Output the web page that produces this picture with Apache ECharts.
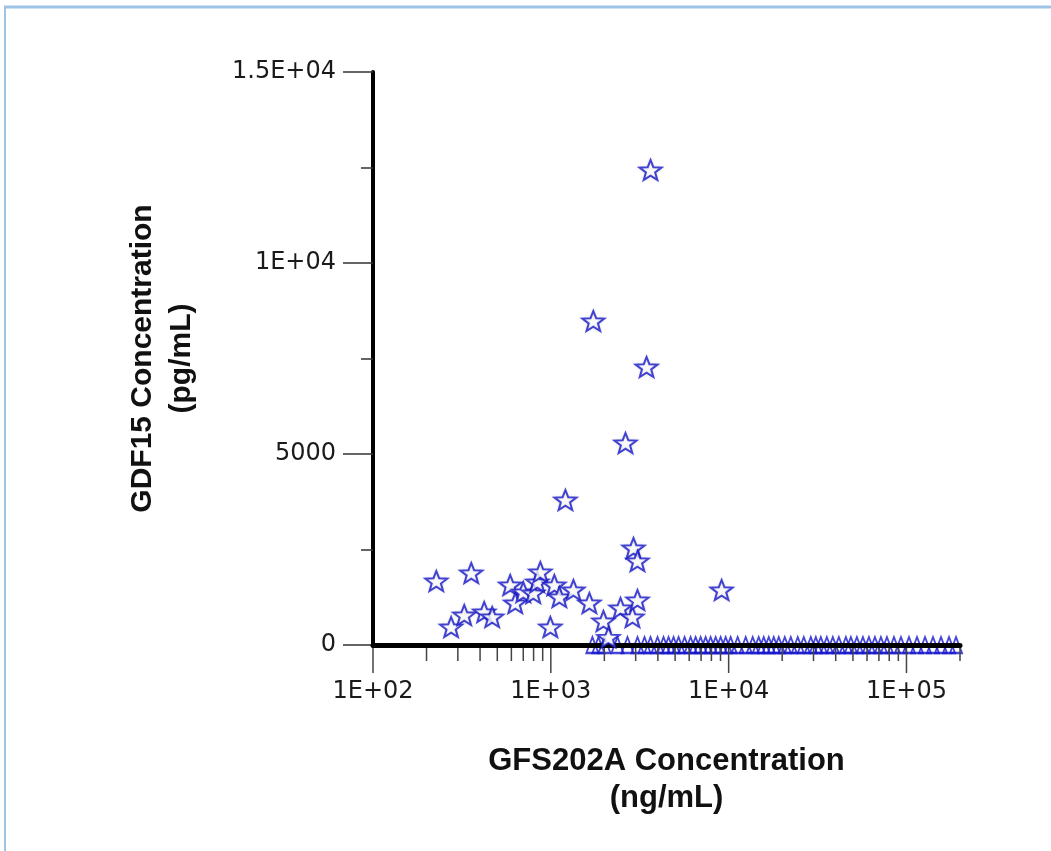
<!DOCTYPE html>
<html>
<head>
<meta charset="utf-8">
<script src="https://cdn.jsdelivr.net/npm/echarts@6/dist/echarts.min.js"></script>
<style>
  html, body { margin: 0; padding: 0; background: #fff; }
  #chart { width: 1051px; height: 851px; }
</style>
</head>
<body>
<div id="chart"></div>
<script>
// ---- Data ----
const xTickValues = [100, 1000, 10000, 100000];
const xTickLabels = ['1E+02', '1E+03', '1E+04', '1E+05'];
const xMinorTickValues = [200, 300, 400, 500, 600, 700, 800, 900,
  2000, 3000, 4000, 5000, 6000, 7000, 8000, 9000,
  20000, 30000, 40000, 50000, 60000, 70000, 80000, 90000, 200000];
const yTickValues = [0, 5000, 10000, 15000];
const yTickLabels = ['0', '5000', '1E+04', '1.5E+04'];

// Stars: GFS202A (ng/mL) vs GDF15 (pg/mL)
const starX = [227, 275, 326, 357, 422, 468, 591, 631, 700, 797, 839, 873, 994, 1047, 1117,
  1340, 1648, 1977, 2109, 2466, 2879, 3071, 2917, 3071, 9130, 1208, 1734, 2630, 3455, 3637];
const starY = [1675, 471, 785, 1885, 864, 733, 1571, 1100, 1388, 1361, 1649, 1911, 471, 1571, 1257,
  1440, 1100, 628, 200, 969, 733, 1178, 2540, 2199, 1440, 3796, 8482, 5288, 7278, 12436];

// Triangles: samples with GDF15 = 0
const triX = [1713, 1852, 2002, 2370, 2698, 3072, 3363, 3636, 3981, 4303, 4592, 4899, 5229, 5652,
  6108, 6518, 6955, 7421, 7917, 8450, 9014, 9619, 10263, 11237, 12470, 13654, 14757, 15746, 16807,
  17930, 19131, 20682, 22355, 24470, 26457, 28973, 30912, 32983, 35654, 38533, 41660, 45618, 48677,
  52612, 56875, 61474, 66447, 71837, 77640, 85050, 93110, 103300, 114600, 127100, 141000, 156400,
  173500, 190000];
const triY = triX.map(() => 0);

// ---- Chart ----
const starPath = 'path://M50 0 L62.34 33.01 L97.55 34.55 L69.97 56.49 L79.39 90.45 L50 71 L20.61 90.45 L30.03 56.49 L2.45 34.55 L37.66 33.01 Z';
const blue = '#1616cc';

function labelFor(values, labels, v) {
  for (let i = 0; i < values.length; i++) {
    if (Math.abs(v - values[i]) <= Math.abs(values[i]) * 1e-6 + 1e-9) return labels[i];
  }
  return '';
}

const tickData = xTickValues.map(v => [v, 1]).concat(xMinorTickValues.map(v => [v, 0]));

const chart = echarts.init(document.getElementById('chart'), null, { renderer: 'canvas' });
chart.setOption({
  animation: false,
  backgroundColor: '#ffffff',
  grid: { left: 373, right: 91, top: 72, bottom: 206, containLabel: false },
  xAxis: {
    type: 'log',
    logBase: 10,
    min: 100,
    max: 200000,
    z: 2,
    splitLine: { show: false },
    axisLine: { show: true, onZero: false, lineStyle: { color: '#000', width: 5 } },
    axisTick: { show: false },
    axisLabel: {
      margin: 35,
      fontFamily: 'DejaVu Sans',
      fontSize: 24,
      color: '#1a1a1a',
      formatter: v => labelFor(xTickValues, xTickLabels, v)
    },
    name: 'GFS202A Concentration\n(ng/mL)',
    nameLocation: 'middle',
    nameGap: 98,
    nameTextStyle: {
      fontFamily: 'Liberation Sans',
      fontWeight: 'bold',
      fontSize: 31,
      lineHeight: 37,
      color: '#111'
    }
  },
  yAxis: {
    type: 'value',
    min: 0,
    max: 15000,
    interval: 5000,
    splitLine: { show: false },
    axisLine: { show: true, onZero: false, lineStyle: { color: '#000', width: 4 } },
    axisTick: { show: true, length: 30, lineStyle: { color: '#333', width: 1.5 } },
    minorTick: { show: true, splitNumber: 2, length: 12, lineStyle: { color: '#333', width: 1.5 } },
    axisLabel: {
      margin: 37,
      fontFamily: 'DejaVu Sans',
      fontSize: 24,
      color: '#1a1a1a',
      formatter: v => labelFor(yTickValues, yTickLabels, v)
    },
    name: 'GDF15 Concentration\n(pg/mL)',
    nameLocation: 'middle',
    nameGap: 172,
    nameTextStyle: {
      fontFamily: 'Liberation Sans',
      fontWeight: 'bold',
      fontSize: 30,
      lineHeight: 39,
      color: '#111'
    }
  },
  graphic: [
    { type: 'line', shape: { x1: 4, y1: 7, x2: 1051, y2: 7 }, style: { stroke: '#9dc3e6', lineWidth: 3 }, silent: true },
    { type: 'line', shape: { x1: 5, y1: 7, x2: 5, y2: 851 }, style: { stroke: '#9dc3e6', lineWidth: 2 }, silent: true }
  ],
  series: [
    {
      type: 'custom',
      name: 'xticks',
      z: 2,
      silent: true,
      clip: false,
      data: tickData,
      encode: { x: 0 },
      renderItem: function (params, api) {
        const p = api.coord([api.value(0), 0]);
        const len = api.value(1) ? 28 : 16;
        return {
          type: 'line',
          shape: { x1: p[0], y1: p[1] + 2, x2: p[0], y2: p[1] + len },
          style: { stroke: '#444', lineWidth: 1.5 }
        };
      }
    },
    {
      type: 'scatter',
      name: 'GDF15 = 0',
      z: 1,
      symbol: 'triangle',
      symbolSize: [12, 16],
      itemStyle: { color: 'rgba(255,255,255,0)', borderColor: blue, borderWidth: 2 },
      data: triX.map((x, i) => [x, triY[i]])
    },
    {
      type: 'scatter',
      name: 'GDF15',
      z: 3,
      symbol: starPath,
      symbolKeepAspect: true,
      symbolSize: [22, 21],
      itemStyle: { color: '#ffffff', borderColor: blue, borderWidth: 2, shadowBlur: 3, shadowColor: 'rgba(0,0,0,0.12)' },
      data: starX.map((x, i) => [x, starY[i]])
    }
  ]
});
</script>
</body>
</html>
